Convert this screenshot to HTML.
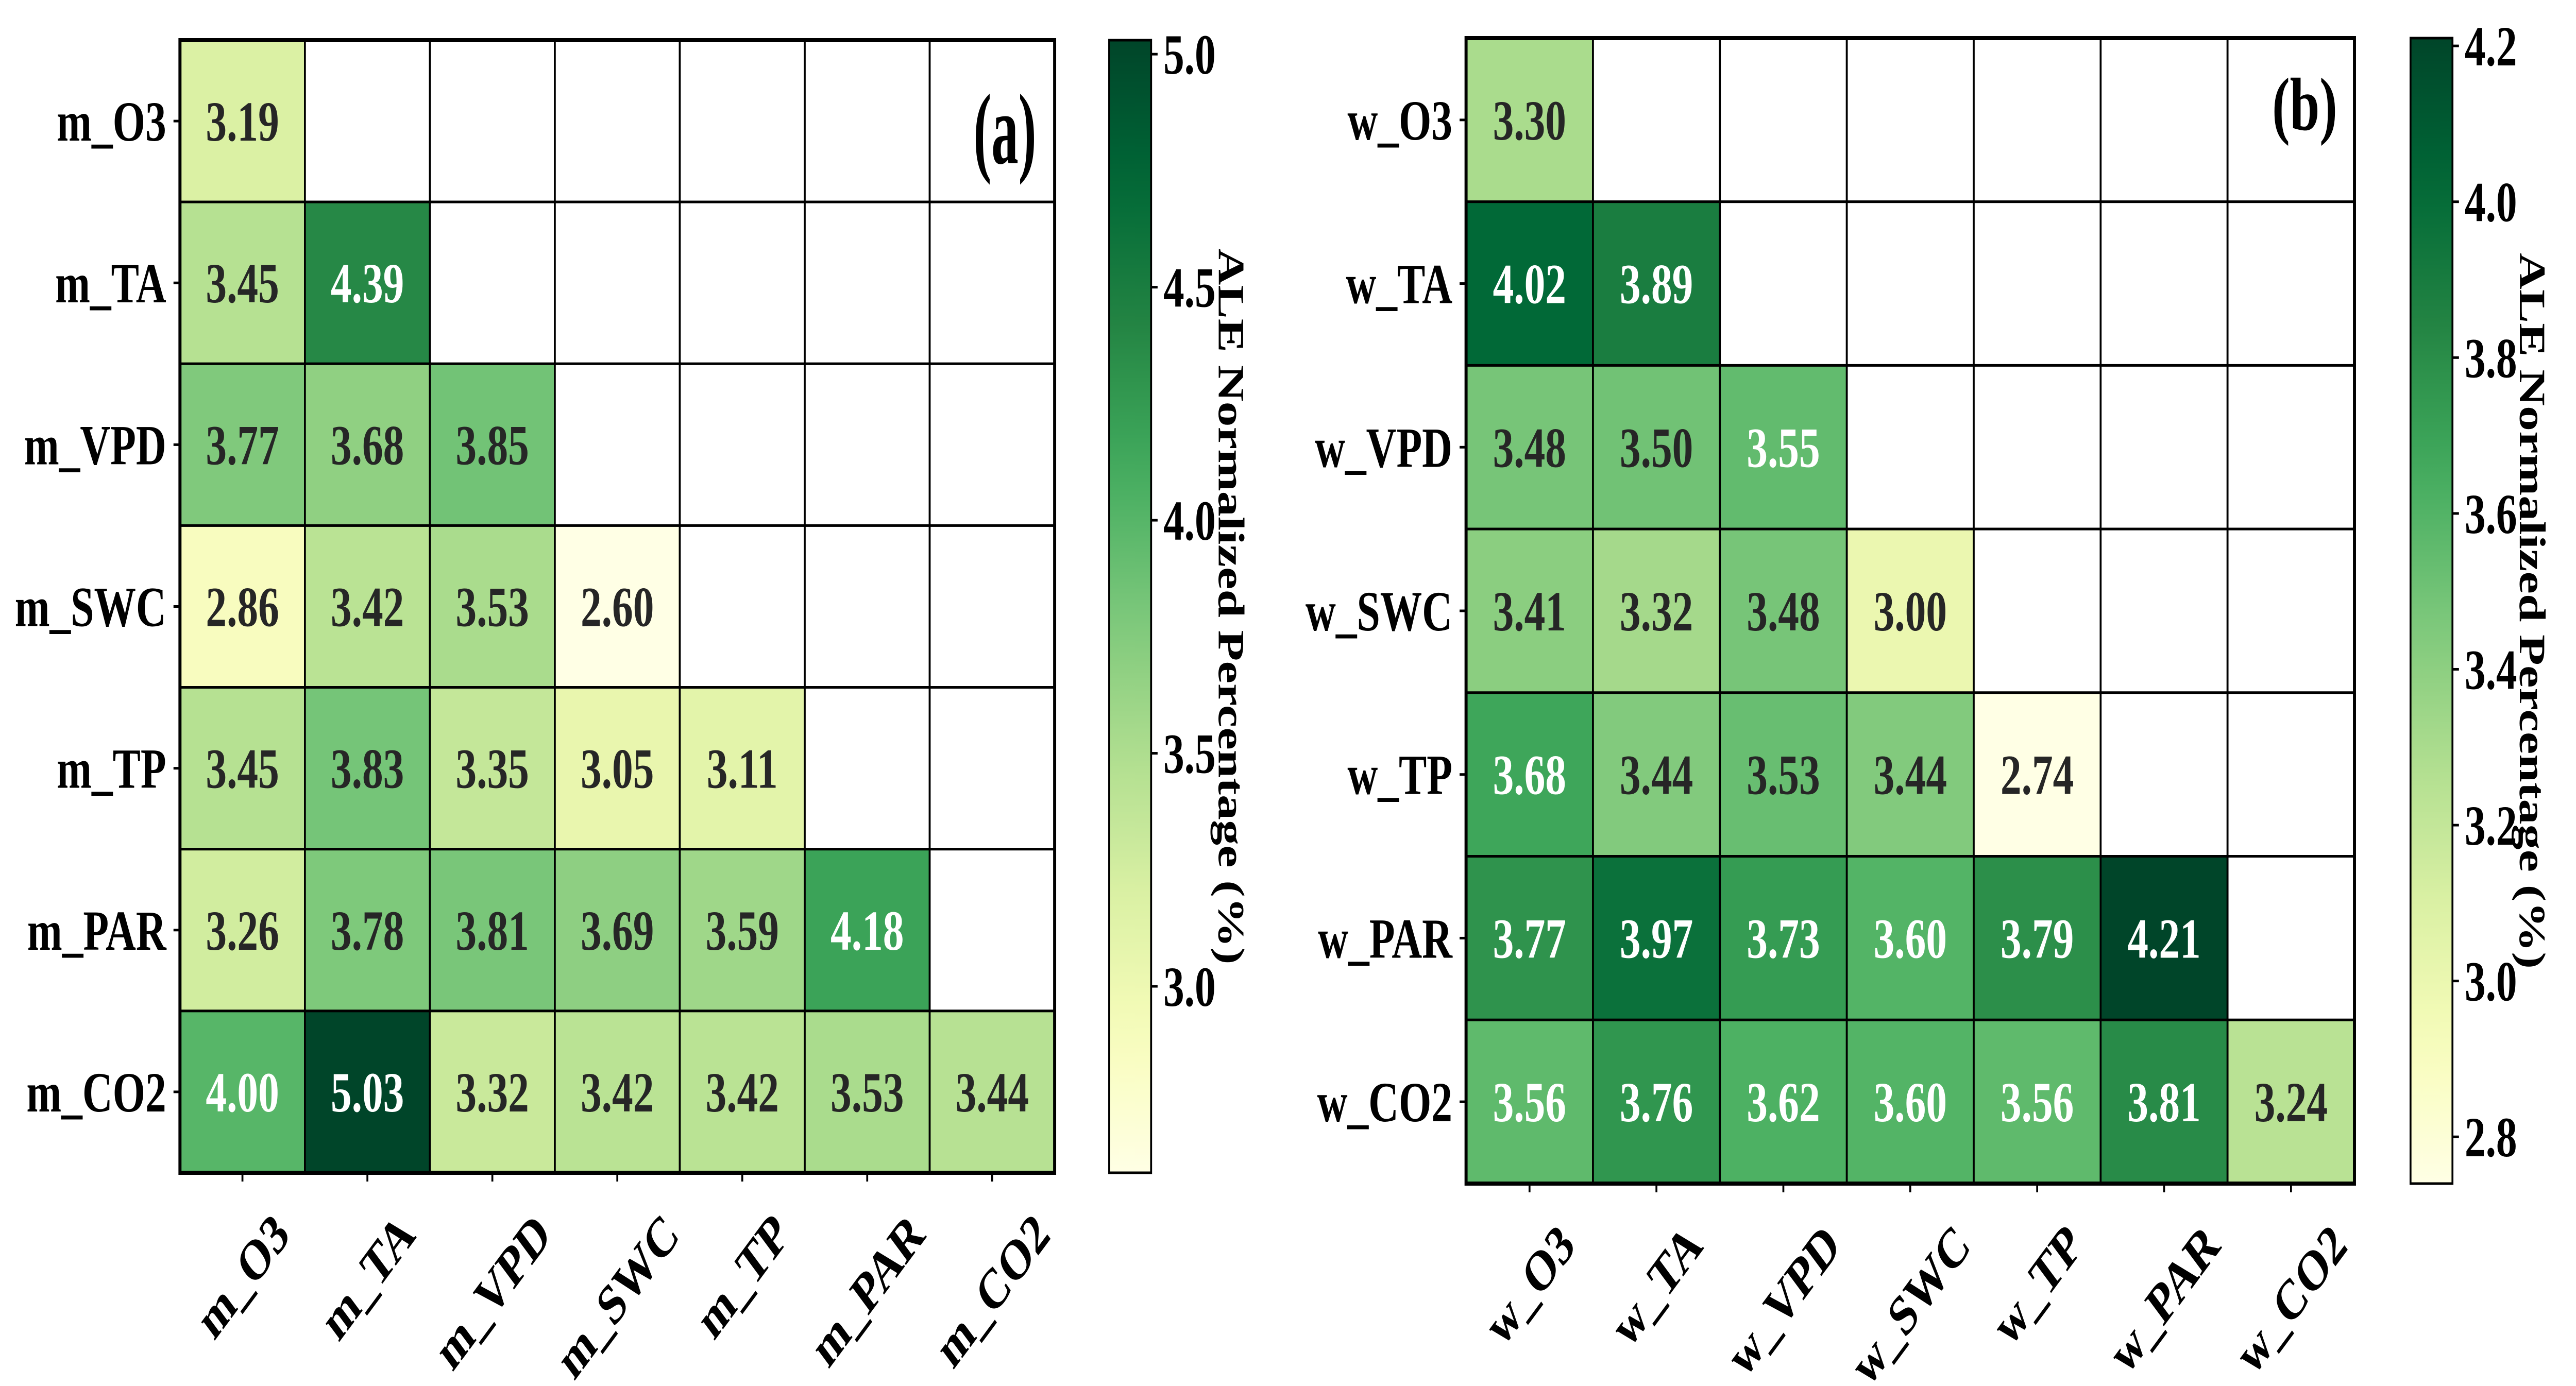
<!DOCTYPE html>
<html><head><meta charset="utf-8">
<style>
html,body{margin:0;padding:0;background:#fff;width:100%;height:100%;overflow:hidden;}
svg{display:block;position:absolute;left:0;top:0;width:100vw;height:100vh;font-family:"Liberation Serif","Times New Roman",serif;font-weight:bold;}
</style></head>
<body>
<svg id="fig" viewBox="0 0 6756 2691" preserveAspectRatio="none" xmlns="http://www.w3.org/2000/svg">
<rect width="6756" height="2691" fill="#fff"/>
</svg>
<script>
const labelsA = ["m_O3","m_TA","m_VPD","m_SWC","m_TP","m_PAR","m_CO2"];
const labelsB = ["w_O3","w_TA","w_VPD","w_SWC","w_TP","w_PAR","w_CO2"];
const valuesA = [
 [3.19],
 [3.45,4.39],
 [3.77,3.68,3.85],
 [2.86,3.42,3.53,2.60],
 [3.45,3.83,3.35,3.05,3.11],
 [3.26,3.78,3.81,3.69,3.59,4.18],
 [4.00,5.03,3.32,3.42,3.42,3.53,3.44]
];
const valuesB = [
 [3.30],
 [4.02,3.89],
 [3.48,3.50,3.55],
 [3.41,3.32,3.48,3.00],
 [3.68,3.44,3.53,3.44,2.74],
 [3.77,3.97,3.73,3.60,3.79,4.21],
 [3.56,3.76,3.62,3.60,3.56,3.81,3.24]
];
const ticksA = [3.0,3.5,4.0,4.5,5.0];
const ticksB = [2.8,3.0,3.2,3.4,3.6,3.8,4.0,4.2];
const rangeA = [2.60,5.03];
const rangeB = [2.74,4.21];

const NS="http://www.w3.org/2000/svg";
const svg=document.getElementById('fig');
const YLGN=["#ffffe5","#f7fcb9","#d9f0a3","#addd8e","#78c679","#41ab5d","#238443","#006837","#004529"];
function hex(h){return [parseInt(h.substr(1,2),16),parseInt(h.substr(3,2),16),parseInt(h.substr(5,2),16)];}
function cmap(t){t=Math.max(0,Math.min(1,t));const n=YLGN.length-1;const i=Math.min(n-1,Math.floor(t*n));const f=t*n-i;
 const a=hex(YLGN[i]),b=hex(YLGN[i+1]);return a.map((v,k)=>Math.round(v+(b[k]-v)*f));}
function rgbs(c){return `rgb(${c[0]},${c[1]},${c[2]})`;}
function lum(c){const r=c.map(v=>{v/=255;return v<=0.03928?v/12.92:Math.pow((v+0.055)/1.055,2.4);});return 0.2126*r[0]+0.7152*r[1]+0.0722*r[2];}
function el(tag,attrs,parent){const e=document.createElementNS(NS,tag);for(const k in attrs)e.setAttribute(k,attrs[k]);(parent||svg).appendChild(e);return e;}

function panel(cfg){
 const g=el('g',{});
 
 
 const n=cfg.labels.length;
 const cw=(cfg.x1-cfg.x0)/n, ch=(cfg.y1-cfg.y0)/n;
 const [vmin,vmax]=cfg.range;
 const xs=i=>cfg.x0+i*cw, ys=j=>cfg.y0+j*ch;
 for(let r=0;r<n;r++){for(let c=0;c<n;c++){
  const v=(cfg.values[r]&&c<cfg.values[r].length)?cfg.values[r][c]:null;
  let fill='#ffffff',col=null;
  if(v!==null){col=cmap((v-vmin)/(vmax-vmin));fill=rgbs(col);}
  const rc=el('rect',{x:xs(c),y:ys(r),width:cw,height:ch,fill:fill,stroke:'#000','stroke-width':5},g);
  
  
  if(v!==null){
   const t=el('text',{x:xs(c)+cw/2,y:ys(r)+ch/2+38,'text-anchor':'middle','font-size':110,fill:lum(col)>0.408?'#262626':'#ffffff'},g);
   t.textContent=v.toFixed(2);
   
   
  }
 }}
 el('rect',{x:cfg.x0,y:cfg.y0,width:cfg.x1-cfg.x0,height:cfg.y1-cfg.y0,fill:'none',stroke:'#000','stroke-width':8},g);
 for(let i=0;i<n;i++){
  const yc=ys(i)+ch/2;
  el('line',{x1:cfg.x0-17,x2:cfg.x0,y1:yc,y2:yc,stroke:'#000','stroke-width':5},g);
  const t=el('text',{x:cfg.x0-36,y:yc+38,'text-anchor':'end','font-size':110,fill:'#000'},g);
  t.textContent=cfg.labels[i];
  
  
 }
 for(let i=0;i<n;i++){
  const xc=xs(i)+cw/2;
  el('line',{x1:xc,x2:xc,y1:cfg.y1,y2:cfg.y1+17,stroke:'#000','stroke-width':5},g);
  const t=el('text',{'text-anchor':'middle','font-size':110,fill:'#000'},g);
  t.textContent=cfg.labels[i];
  
  
  const L=t.getComputedTextLength();
  const yc=cfg.y1+cfg.xpad+(L+85)*0.7071/2;
  t.setAttribute('transform',`translate(${xc},${yc}) rotate(-45)`);
  t.setAttribute('y',38);
 }
 const pl=el('text',{x:cfg.letter[0],y:cfg.letter[1],'font-size':cfg.letter[2],textLength:cfg.letter[3],lengthAdjust:'spacingAndGlyphs',fill:'#000'},g);
 pl.textContent=cfg.letterText;
 
 
 const cb=cfg.cb;
 const gid='grad'+cfg.name;
 const defs=el('defs',{},g);
 const lg=el('linearGradient',{id:gid,x1:0,y1:1,x2:0,y2:0},defs);
 for(let k=0;k<=20;k++){el('stop',{offset:k/20,'stop-color':rgbs(cmap(k/20))},lg);}
 const cbr=el('rect',{x:cb.x0,y:cfg.y0,width:cb.x1-cb.x0,height:cfg.y1-cfg.y0,fill:`url(#${gid})`,stroke:'#000','stroke-width':5},g);
 
 
 const cy=v=>cfg.y1-(v-vmin)/(vmax-vmin)*(cfg.y1-cfg.y0);
 cfg.ticks.forEach(v=>{
  const y=cy(v);
  el('line',{x1:cb.x1,x2:cb.x1+17,y1:y,y2:y,stroke:'#000','stroke-width':5},g);
  const t=el('text',{x:cb.x1+32,y:y+38,'font-size':110,fill:'#000'},g);
  t.textContent=v.toFixed(1);
  
  
 });
 const mid=(cfg.y0+cfg.y1)/2, lx=cb.x1+211;
 const lab=el('text',{x:0,y:0,'text-anchor':'middle','font-size':98,textLength:1390,lengthAdjust:'spacingAndGlyphs',fill:'#000',transform:`translate(${lx-34},${mid}) rotate(90)`},g);
 lab.textContent='ALE Normalized Percentage (%)';
 
 
}

panel({name:'heatmap-a',labels:labelsA,values:valuesA,range:rangeA,ticks:ticksA,
 x0:472,x1:2766,y0:78,y1:2277,xpad:68,cb:{x0:2909,x1:3019},
 letterText:'(a)',letter:[2553,317,195,165]});
panel({name:'heatmap-b',labels:labelsB,values:valuesB,range:rangeB,ticks:ticksB,
 x0:3845,x1:6175,y0:74,y1:2298,xpad:68,cb:{x0:6322,x1:6432},
 letterText:'(b)',letter:[5959,252,146,171]});
</script>
</body></html>
